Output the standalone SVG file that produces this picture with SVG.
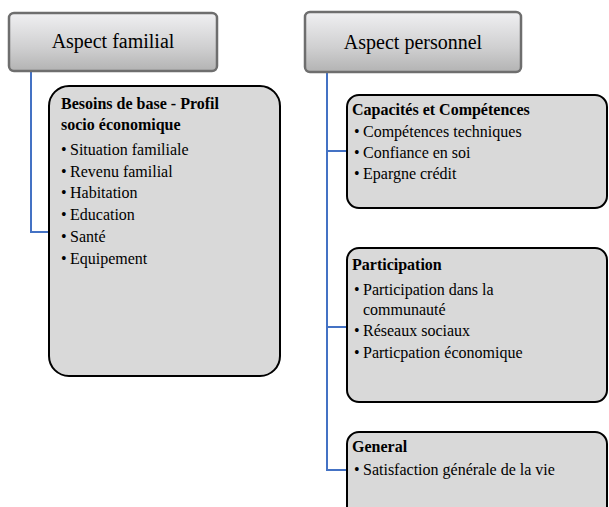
<svg xmlns="http://www.w3.org/2000/svg" width="609" height="507" viewBox="0 0 609 507" font-family="'Liberation Serif', 'Times New Roman', 'DejaVu Serif', serif">
<defs>
<linearGradient id="g" x1="0" y1="0" x2="0" y2="1">
<stop offset="0" stop-color="#f0f0f2"/>
<stop offset="0.6" stop-color="#cfcfd0"/>
<stop offset="1" stop-color="#b3b3b3"/>
</linearGradient>
</defs>
<style>
.top{fill:url(#g);stroke:#6e6e6e;stroke-width:2.5}
.box{fill:#d9d9d9;stroke:#000;stroke-width:2}
text{font-family:'Liberation Serif','Times New Roman','DejaVu Serif',serif;fill:#000}
.title{font-size:20px}
.h{font-size:16px;font-weight:bold}
.b{font-size:16px}
.c{fill:none;stroke:#4472c4;stroke-width:2}
</style>
<g id="connectors">
<polyline class="c" points="31,71 31,232 51,232"/>
<polyline class="c" points="327,73 327,470 347,470"/>
<line class="c" x1="327" y1="151" x2="347" y2="151"/>
<line class="c" x1="327" y1="327" x2="347" y2="327"/>
</g>
<g id="aspect-familial">
<rect class="top" x="9" y="13" width="208" height="58" rx="5"/>
<text class="title" x="113" y="48" text-anchor="middle">Aspect familial</text>
</g>
<g id="aspect-personnel">
<rect class="top" x="305" y="12" width="216" height="60" rx="5"/>
<text class="title" x="413" y="49" text-anchor="middle">Aspect personnel</text>
</g>
<g id="besoins">
<rect class="box" x="49" y="86" width="231" height="290" rx="20"/>
<text class="h" x="61" y="109">Besoins de base - Profil</text>
<text class="h" x="61" y="130">socio économique</text>
<g class="b">
<text x="61" y="155">•</text><text x="70" y="155">Situation familiale</text>
<text x="61" y="177">•</text><text x="70" y="177">Revenu familial</text>
<text x="61" y="198">•</text><text x="70" y="198">Habitation</text>
<text x="61" y="220">•</text><text x="70" y="220">Education</text>
<text x="61" y="242">•</text><text x="70" y="242">Santé</text>
<text x="61" y="264">•</text><text x="70" y="264">Equipement</text>
</g>
</g>
<g id="capacites">
<rect class="box" x="347" y="95" width="260" height="113" rx="12"/>
<text class="h" x="352" y="115">Capacités et Compétences</text>
<g class="b">
<text x="354" y="137">•</text><text x="363" y="137">Compétences techniques</text>
<text x="354" y="158">•</text><text x="363" y="158">Confiance en soi</text>
<text x="354" y="179">•</text><text x="363" y="179">Epargne crédit</text>
</g>
</g>
<g id="participation">
<rect class="box" x="347" y="248" width="260" height="154" rx="12"/>
<text class="h" x="352" y="270">Participation</text>
<g class="b">
<text x="354" y="295">•</text><text x="363" y="295">Participation dans la</text>
<text x="363" y="315">communauté</text>
<text x="354" y="336">•</text><text x="363" y="336">Réseaux sociaux</text>
<text x="354" y="358">•</text><text x="363" y="358">Particpation économique</text>
</g>
</g>
<g id="general">
<rect class="box" x="347" y="432" width="260" height="110" rx="12"/>
<text class="h" x="352" y="452">General</text>
<g class="b">
<text x="354" y="475">•</text><text x="363" y="475">Satisfaction générale de la vie</text>
</g>
</g>
</svg>
